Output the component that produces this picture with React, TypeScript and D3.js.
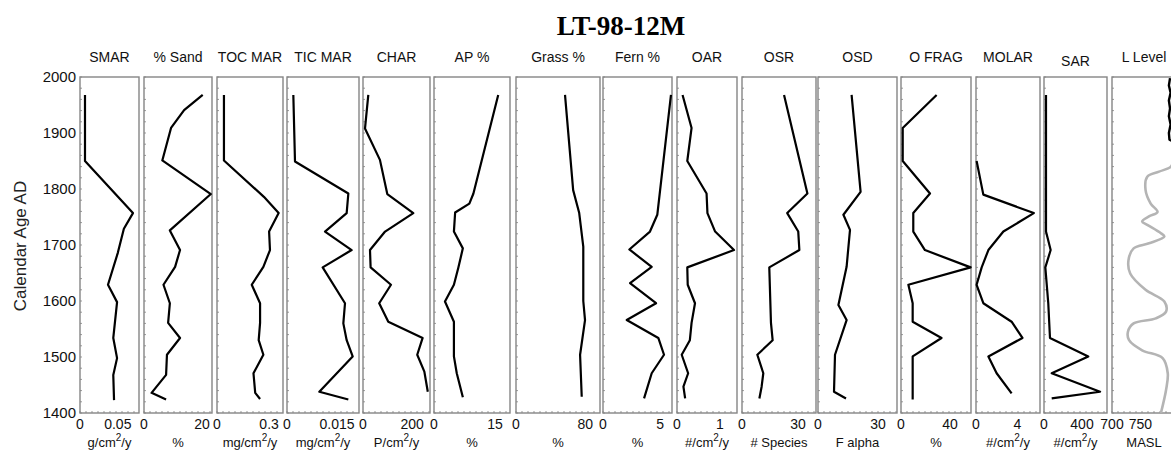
import React from 'react';
import * as d3 from 'd3';

// ---------- data ----------
const titleText = 'LT-98-12M';
const yAxisLabel = 'Calendar Age AD';
const yearTicks = [2000, 1900, 1800, 1700, 1600, 1500, 1400];

const panelNames = ['SMAR', '% Sand', 'TOC MAR', 'TIC MAR', 'CHAR', 'AP %', 'Grass %', 'Fern %', 'OAR', 'OSR', 'OSD', 'O FRAG', 'MOLAR', 'SAR', 'L Level'];
const unitLabels = ['g/cm²/y', '%', 'mg/cm²/y', 'mg/cm²/y', 'P/cm²/y', '%', '%', '%', '#/cm²/y', '# Species', 'F alpha', '%', '#/cm²/y', '#/cm²/y', 'MASL'];
const domainMin = [0, 0, 0, 0, 0, 0, 0, 0, 0, 0, 0, 0, 0, 0, 700];
const domainMax = [0.078, 23.4, 0.38, 0.0216, 273, 18.7, 97, 6.05, 1.4, 39.6, 39.5, 57, 6.2, 663, 812.5];
const tickValues: number[][] = [[0, 0.05], [0, 20], [0, 0.3], [0, 0.015], [0, 200], [0, 15], [0, 80], [0, 5], [0, 1], [0, 30], [0, 30], [0, 40], [0, 4], [0, 400], [700, 750]];
const tickLabels: string[][] = [['0', '0.05'], ['0', '20'], ['0', '0.3'], ['0', '0.015'], ['0', '200'], ['0', '15'], ['0', '80'], ['0', '5'], ['0', '1'], ['0', '30'], ['0', '30'], ['0', '40'], ['0', '4'], ['0', '400'], ['700', '750']];

type Pt = [number, number]; // [year, value]

const smar: Pt[] = [[1968, 0.0066], [1850, 0.0066], [1757, 0.070], [1729, 0.058], [1686, 0.050], [1629, 0.037], [1598, 0.049], [1534, 0.044], [1498, 0.049], [1468, 0.044], [1423, 0.045]];
const sand: Pt[] = [[1968, 20.2], [1941, 13.8], [1909, 9.3], [1851, 6.3], [1791, 23], [1726, 8.9], [1691, 12.4], [1661, 10.7], [1629, 6.7], [1596, 8.9], [1561, 8.3], [1534, 12.4], [1504, 7.9], [1468, 7.6], [1436, 2.6], [1424, 7.6]];
const tocMar: Pt[] = [[1968, 0.040], [1851, 0.040], [1786, 0.27], [1757, 0.355], [1724, 0.30], [1691, 0.305], [1661, 0.267], [1629, 0.20], [1596, 0.248], [1561, 0.248], [1530, 0.24], [1504, 0.267], [1471, 0.21], [1436, 0.22], [1425, 0.248]];
const ticMar: Pt[] = [[1968, 0.0019], [1849, 0.0024], [1792, 0.0184], [1757, 0.0179], [1724, 0.0114], [1691, 0.0194], [1660, 0.0107], [1596, 0.0174], [1560, 0.0169], [1530, 0.0179], [1501, 0.0197], [1438, 0.0097], [1424, 0.0184]];
const charc: Pt[] = [[1968, 21.6], [1908, 8.1], [1852, 69], [1791, 99], [1757, 205], [1724, 90], [1691, 28.5], [1660, 31], [1629, 114], [1596, 66], [1563, 103], [1534, 243], [1504, 221], [1474, 250], [1438, 264]];
const apPct: Pt[] = [[1968, 15.8], [1792, 9.7], [1774, 8.7], [1758, 5.2], [1724, 4.9], [1694, 7.1], [1660, 6.0], [1629, 4.9], [1599, 2.7], [1563, 4.9], [1501, 4.9], [1471, 5.6], [1428, 7.1]];
const grassPct: Pt[] = [[1968, 56.6], [1798, 66], [1757, 73], [1697, 77.7], [1600, 77.7], [1566, 79.7], [1504, 74], [1429, 75.9]];
const fernPct: Pt[] = [[1968, 5.96], [1754, 4.76], [1724, 4.12], [1692, 2.31], [1661, 4.27], [1632, 2.37], [1596, 4.65], [1566, 2.08], [1534, 4.85], [1504, 5.35], [1471, 4.27], [1426, 3.6]];
const oar: Pt[] = [[1968, 0.13], [1909, 0.34], [1850, 0.24], [1792, 0.69], [1757, 0.71], [1724, 0.89], [1691, 1.33], [1660, 0.24], [1629, 0.25], [1596, 0.42], [1561, 0.34], [1530, 0.30], [1504, 0.11], [1471, 0.26], [1447, 0.15], [1426, 0.19]];
const osr: Pt[] = [[1968, 22.5], [1792, 35], [1757, 24.2], [1724, 30.1], [1691, 30.7], [1660, 14.6], [1561, 15.5], [1530, 16.4], [1504, 8.2], [1471, 11.4], [1447, 10.5], [1426, 9.3]];
const osd: Pt[] = [[1968, 16.8], [1795, 21.3], [1754, 12.7], [1727, 16], [1661, 14.3], [1593, 10.2], [1566, 14.3], [1504, 8.5], [1438, 8], [1426, 14]];
const oFrag: Pt[] = [[1968, 29], [1909, 1.4], [1850, 1.4], [1792, 23.6], [1757, 10], [1724, 10], [1691, 19.5], [1660, 56.7], [1629, 6], [1596, 9.5], [1563, 9.5], [1534, 33], [1501, 9.5], [1424, 9.5]];
const molar: Pt[] = [[1850, 0.06], [1790, 0.71], [1757, 5.6], [1724, 2.65], [1691, 1.2], [1660, 0.55], [1629, 0.06], [1596, 0.71], [1563, 3.45], [1534, 4.5], [1501, 1.2], [1471, 2.0], [1435, 3.45]];
const sar: Pt[] = [[1968, 21], [1724, 21], [1691, 70], [1660, 14], [1596, 45], [1534, 63], [1501, 466], [1471, 81], [1438, 590], [1426, 81]];
const lakeLevelRecent: Pt[] = [[1998, 802], [1985, 800], [1972, 803], [1958, 800], [1944, 802], [1930, 800], [1915, 803], [1900, 800], [1888, 801], [1884, 809]];
const lakeLevelRecon: Pt[] = [[1852, 808], [1840, 803.6], [1831, 782.7], [1822, 762], [1798, 759], [1774, 768], [1759, 780], [1751, 765], [1742, 753], [1736, 762], [1721, 786], [1715, 792], [1703, 765], [1694, 738], [1673, 729], [1649, 732], [1620, 759], [1599, 792], [1581, 795], [1569, 777], [1560, 738], [1545, 728], [1530, 730], [1512, 753], [1498, 789], [1471, 798], [1441, 795], [1400, 786]];

const seriesList: Pt[][] = [smar, sand, tocMar, ticMar, charc, apPct, grassPct, fernPct, oar, osr, osd, oFrag, molar, sar, lakeLevelRecent];

// ---------- layout ----------
const W = 1171;
const H = 450;
const plotTop = 77;
const plotBottom = 413;
const panelLeft = [80, 144, 217, 287, 363, 434, 516, 603, 677, 742, 818, 901, 976, 1044, 1112];
const panelRight = [139, 212, 283, 359, 430, 510, 600, 672, 737, 816, 897, 971, 1040, 1107, 1176];

const sans = '"Liberation Sans", Arial, Helvetica, sans-serif';
const serif = '"Liberation Serif", "Times New Roman", serif';

function UnitText({ x, y, text }: { x: number; y: number; text: string }) {
  const parts = text.split('²');
  if (parts.length === 1) {
    return (
      <text x={x} y={y} textAnchor="middle" fontFamily={sans} fontSize={13} fill="#111">{text}</text>
    );
  }
  return (
    <text x={x} y={y} textAnchor="middle" fontFamily={sans} fontSize={13} fill="#111">
      <tspan>{parts[0]}</tspan>
      <tspan dy={-6} fontSize={10}>2</tspan>
      <tspan dy={6}>{parts[1]}</tspan>
    </text>
  );
}

export default function App() {
  const yScale = d3.scaleLinear().domain([1400, 2000]).range([plotBottom, plotTop]);
  const minorYears = d3.range(1400, 2001, 20);

  return (
    <svg width={W} height={H} viewBox={`0 0 ${W} ${H}`} style={{ position: 'absolute', left: 0, top: 0, display: 'block', background: '#fff' }}>
      <defs>
        <clipPath id="clip-lake">
          <rect x={panelLeft[14]} y={plotTop} width={panelRight[14] - panelLeft[14]} height={plotBottom - plotTop} />
        </clipPath>
      </defs>
      <rect x={0} y={0} width={W} height={H} fill="#fff" />
      <text x={621} y={35} textAnchor="middle" fontFamily={serif} fontWeight="bold" fontSize={27} fill="#000">{titleText}</text>

      {/* y axis */}
      <text transform={`translate(26,246) rotate(-90)`} textAnchor="middle" fontFamily={sans} fontSize={17} fill="#222">{yAxisLabel}</text>
      {yearTicks.map((yr) => (
        <text key={yr} x={76} y={yScale(yr) + 5} textAnchor="end" fontFamily={sans} fontSize={15} fill="#111">{yr}</text>
      ))}

      {panelNames.map((name, i) => {
        const x = d3.scaleLinear().domain([domainMin[i], domainMax[i]]).range([panelLeft[i], panelRight[i]]);
        const line = d3.line<Pt>().x((d) => x(d[1])).y((d) => yScale(d[0]));
        const smooth = d3.line<Pt>().x((d) => x(d[1])).y((d) => yScale(d[0])).curve(d3.curveCatmullRom.alpha(0.5));
        const cx = (panelLeft[i] + panelRight[i]) / 2;
        const isLake = i === 14;
        const minorX = d3.range(panelLeft[i], panelRight[i], 6);
        return (
          <g key={name}>
            <text x={cx} y={name === 'SAR' ? 66 : 62} textAnchor="middle" fontFamily={sans} fontSize={14} fill="#111">{name}</text>
            {minorYears.map((yr) => (
              <line key={'m' + yr} x1={panelLeft[i]} x2={panelLeft[i] + 2} y1={yScale(yr)} y2={yScale(yr)} stroke="#999" strokeWidth={1} />
            ))}
            {minorX.map((mx) => (
              <line key={'b' + mx} x1={mx} x2={mx} y1={plotBottom} y2={plotBottom - 2} stroke="#999" strokeWidth={1} />
            ))}
            <rect x={panelLeft[i]} y={plotTop} width={panelRight[i] - panelLeft[i]} height={plotBottom - plotTop} fill="none" stroke="#858585" strokeWidth={1.4} />
            {isLake ? (
              <g clipPath="url(#clip-lake)">
                <path d={smooth(lakeLevelRecon) || ''} fill="none" stroke="#b4b4b4" strokeWidth={2.6} />
                <path d={line(lakeLevelRecent) || ''} fill="none" stroke="#000" strokeWidth={2.4} strokeLinejoin="round" />
              </g>
            ) : (
              <path d={line(seriesList[i]) || ''} fill="none" stroke="#000" strokeWidth={2.2} strokeLinejoin="round" />
            )}
            {tickValues[i].map((tv, k) => (
              <text key={'t' + k} x={x(tv)} y={429} textAnchor="middle" fontFamily={sans} fontSize={14} fill="#111">{tickLabels[i][k]}</text>
            ))}
            <UnitText x={cx} y={447} text={unitLabels[i]} />
          </g>
        );
      })}
    </svg>
  );
}
